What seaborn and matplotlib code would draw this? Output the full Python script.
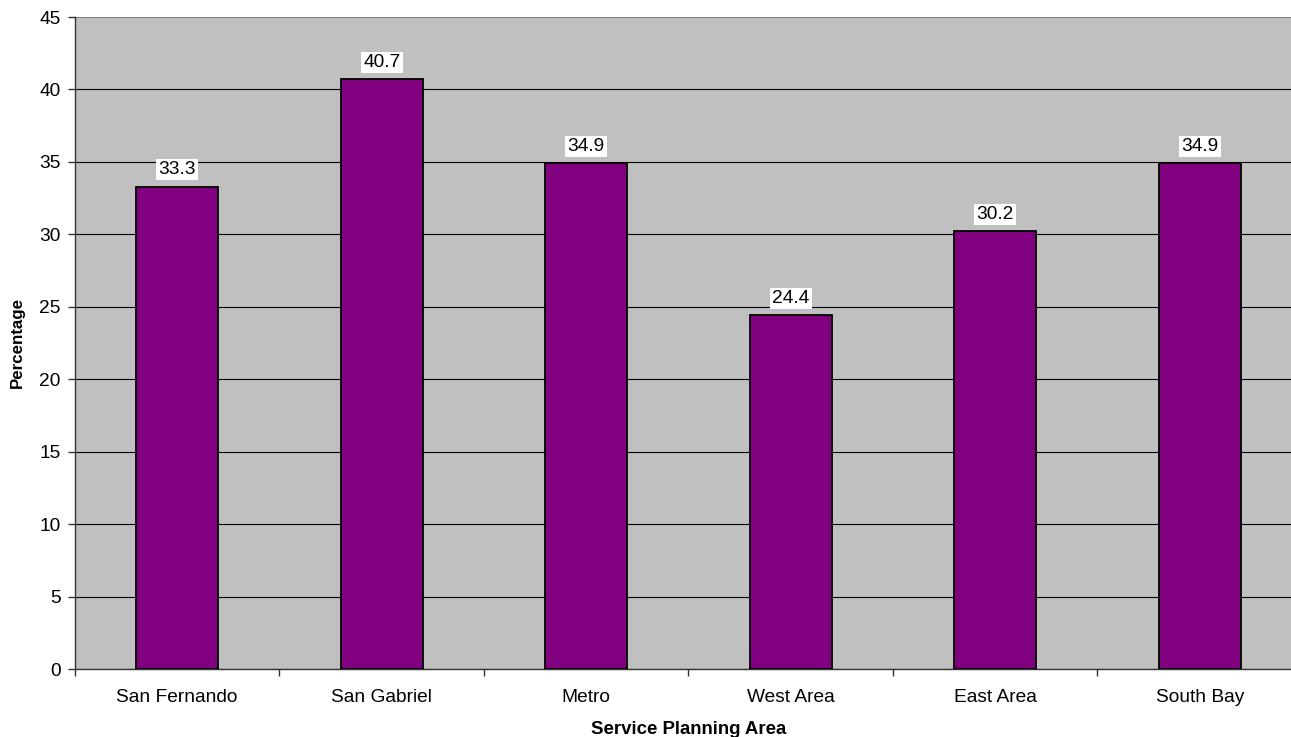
import matplotlib
matplotlib.use("Agg")
import matplotlib.pyplot as plt
import seaborn as sns
import pandas as pd
import numpy as np

categories = ["San Fernando", "San Gabriel", "Metro", "West Area", "East Area", "South Bay"]
values = [33.3, 40.7, 34.9, 24.4, 30.2, 34.9]

sns.set_style("white")
plt.rcParams['font.family'] = ['Liberation Sans', 'DejaVu Sans']
plt.rcParams['text.color'] = 'black'
plt.rcParams['axes.labelcolor'] = 'black'
plt.rcParams['xtick.color'] = 'black'
plt.rcParams['ytick.color'] = 'black'

df = pd.DataFrame({"area": categories, "pct": values})

fig = plt.figure(figsize=(12.91, 7.37), dpi=100)
W, H = 1291, 737
left, right, top, bottom = 75, 1302, 17, 669
ax = fig.add_axes([left / W, 1 - bottom / H, (right - left) / W, (bottom - top) / H])
ax.set_facecolor("#C0C0C0")

sns.barplot(data=df, x="area", y="pct", ax=ax, color="#800080", width=0.40,
            edgecolor="black", linewidth=1.3, saturation=1, zorder=3)

ax.set_ylim(0, 45)
ax.set_xlim(-0.5, len(categories) - 0.5)
ax.set_yticks(np.arange(0, 46, 5))
ax.yaxis.grid(True, color="black", linewidth=0.8, zorder=0)
ax.set_axisbelow(True)
gl = ax.get_ygridlines()
gl[-1].set_color("#808080")

ax.set_xticks(range(len(categories)))
ax.set_xticklabels(categories, fontsize=13.8)
ax.tick_params(axis="x", which="major", bottom=True, length=0, pad=14.5)
ax.set_xticks(np.arange(-0.5, len(categories), 1), minor=True)
ax.tick_params(axis="x", which="minor", bottom=True, length=5, width=1, color="#333333", direction="out")
ax.tick_params(axis="y", left=True, labelsize=13.8, length=5, width=1, color="#333333", direction="out", pad=5.5)

for s in ["top", "right"]:
    ax.spines[s].set_visible(False)
ax.spines["left"].set_color("#333333")
ax.spines["bottom"].set_color("#333333")
ax.spines["left"].set_linewidth(1)
ax.spines["bottom"].set_linewidth(1)

for i, v in enumerate(values):
    ax.annotate(f"{v:.1f}", xy=(i, v), xytext=(0, 6), textcoords="offset points",
                ha="center", va="bottom", fontsize=13.8,
                bbox=dict(boxstyle="square,pad=0.12", facecolor="white", edgecolor="none"),
                zorder=5)

ax.set_xlabel("Service Planning Area", fontsize=13.4, fontweight="bold", labelpad=11)
ax.set_ylabel("Percentage", fontsize=12.2, fontweight="bold", labelpad=10)

fig.savefig("out.png", dpi=100)
